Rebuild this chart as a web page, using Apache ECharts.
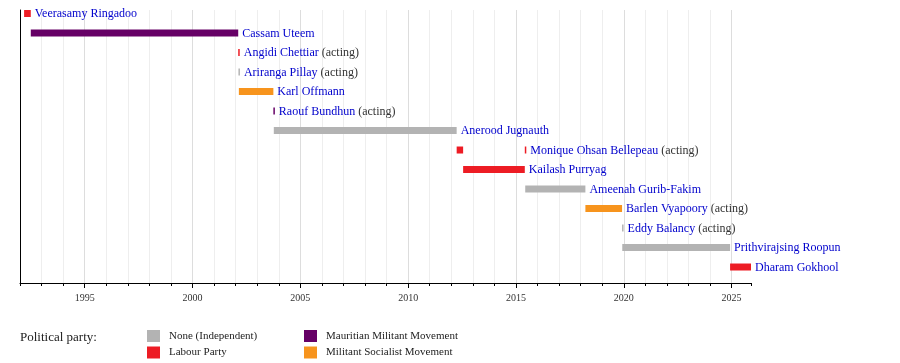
<!DOCTYPE html>
<html><head><meta charset="utf-8">
<script src="https://cdn.jsdelivr.net/npm/echarts@6/dist/echarts.min.js"></script>
<style>html,body{margin:0;padding:0;background:#fff}#c{width:900px;height:363px}</style>
</head><body><div id="c"></div>
<script>
const names = ['Veerasamy Ringadoo','Cassam Uteem','Angidi Chettiar','Ariranga Pillay','Karl Offmann','Raouf Bundhun','Anerood Jugnauth','Monique Ohsan Bellepeau','Kailash Purryag','Monique Ohsan Bellepeau','Ameenah Gurib-Fakim','Barlen Vyapoory','Eddy Balancy','Prithvirajsing Roopun','Dharam Gokhool'];
const starts = [1992.19,1992.50,2002.12,2002.13,2002.15,2003.75,2003.77,2012.25,2012.55,2015.41,2015.43,2018.22,2019.92,2019.93,2024.93];
const ends   = [1992.50,2002.12,2002.13,2002.15,2003.75,2003.77,2012.25,2012.55,2015.41,2015.43,2018.22,2019.92,2019.93,2024.93,2025.90];
const rows   = [0,1,2,3,4,5,6,7,8,7,9,10,11,12,13];
const parties = ['Labour Party','Mauritian Militant Movement','Labour Party','None (Independent)','Militant Socialist Movement','Mauritian Militant Movement','None (Independent)','Labour Party','Labour Party','Labour Party','None (Independent)','Militant Socialist Movement','None (Independent)','None (Independent)','Labour Party'];
const acting = [false,false,true,true,false,true,false,true,false,true,false,true,true,false,false];
const showLabel = [true,true,true,true,true,true,true,false,true,true,true,true,true,true,true];
const partyNames = ['None (Independent)','Labour Party','Mauritian Militant Movement','Militant Socialist Movement'];
const partyColors = ['#b3b3b3','#ed1c24','#660066','#f7941d'];
const majorYears = [1995,2000,2005,2010,2015,2020,2025];
const axisMin = 1992, axisMax = 2025.9;

const FONT = '"Liberation Serif", "DejaVu Serif", serif';

function renderItem(params, api) {
  const s = api.value(0), e = api.value(1), r = api.value(2), gi = api.value(3);
  const p0 = api.coord([s, r]);
  const p1 = api.coord([e, r]);
  const h = 7;
  const w = Math.max(p1[0] - p0[0], 1.5);
  const children = [{
    type: 'rect',
    shape: {x: p0[0], y: p0[1] - h / 2, width: w, height: h},
    style: {fill: api.visual('color')}
  }];
  if (showLabel[gi]) {
    children.push({
      type: 'text',
      x: p0[0] + w + 4,
      y: p0[1] + 0.5,
      style: {
        text: '{n|' + names[gi] + '}' + (acting[gi] ? ' {a|(acting)}' : ''),
        align: 'left',
        verticalAlign: 'middle',
        font: '12px ' + FONT,
        rich: {
          n: {fill: '#0000cc', font: '12px ' + FONT},
          a: {fill: '#333333', font: '12px ' + FONT}
        }
      }
    });
  }
  return {type: 'group', children};
}

const series = partyNames.map((p, pi) => ({
  type: 'custom',
  name: p,
  renderItem,
  clip: false,
  itemStyle: {color: partyColors[pi]},
  encode: {x: [0, 1], y: 2},
  data: names.map((n, i) => [starts[i], ends[i], rows[i], i]).filter((d, i) => parties[i] === p)
}));

const minorColors = ['#eeeeee','#eeeeee','#eeeeee','#dddddd','#eeeeee'];
const legendText = {fontSize: 11, color: '#222', fontFamily: FONT, padding: [0,0,0,4]};

const option = {
  animation: false,
  textStyle: {fontFamily: FONT},
  title: {
    text: 'Political party:', left: 20, top: 331, padding: 0,
    textStyle: {fontSize: 13, fontWeight: 'normal', color: '#222', fontFamily: FONT}
  },
  legend: [{
    data: partyNames.slice(0, 2), orient: 'vertical', left: 147, top: 330, padding: 0,
    icon: 'rect', itemWidth: 13, itemHeight: 12, itemGap: 4.5, selectedMode: false,
    textStyle: legendText
  }, {
    data: partyNames.slice(2, 4), orient: 'vertical', left: 304, top: 330, padding: 0,
    icon: 'rect', itemWidth: 13, itemHeight: 12, itemGap: 4.5, selectedMode: false,
    textStyle: legendText
  }],
  grid: {left: 20, right: 149, top: 10, bottom: 80},
  xAxis: [{
    type: 'value', min: axisMin, max: axisMax, interval: 1, position: 'bottom',
    axisLine: {show: true, onZero: false, lineStyle: {color: '#000', width: 1}},
    axisTick: {show: true, length: 3, lineStyle: {color: '#000'}},
    axisLabel: {show: false},
    splitLine: {show: true, showMaxLine: false, lineStyle: {color: minorColors, width: 1}}
  }, {
    type: 'value', min: axisMin, max: axisMax, position: 'bottom',
    axisLine: {show: false, onZero: false},
    axisTick: {show: true, length: 5, customValues: majorYears, lineStyle: {color: '#000'}},
    axisLabel: {show: true, customValues: majorYears, margin: 10, fontSize: 10, color: '#333', fontFamily: FONT,
      formatter: v => String(Math.round(v))},
    splitLine: {show: false}
  }],
  yAxis: {
    type: 'value', inverse: true, min: -0.18, max: 13.82,
    axisLine: {show: true, onZero: false, lineStyle: {color: '#000', width: 1}},
    axisTick: {show: false}, axisLabel: {show: false}, splitLine: {show: false}
  },
  series
};

const chart = echarts.init(document.getElementById('c'), null, {renderer: 'canvas'});
chart.setOption(option);
</script>
</body></html>
